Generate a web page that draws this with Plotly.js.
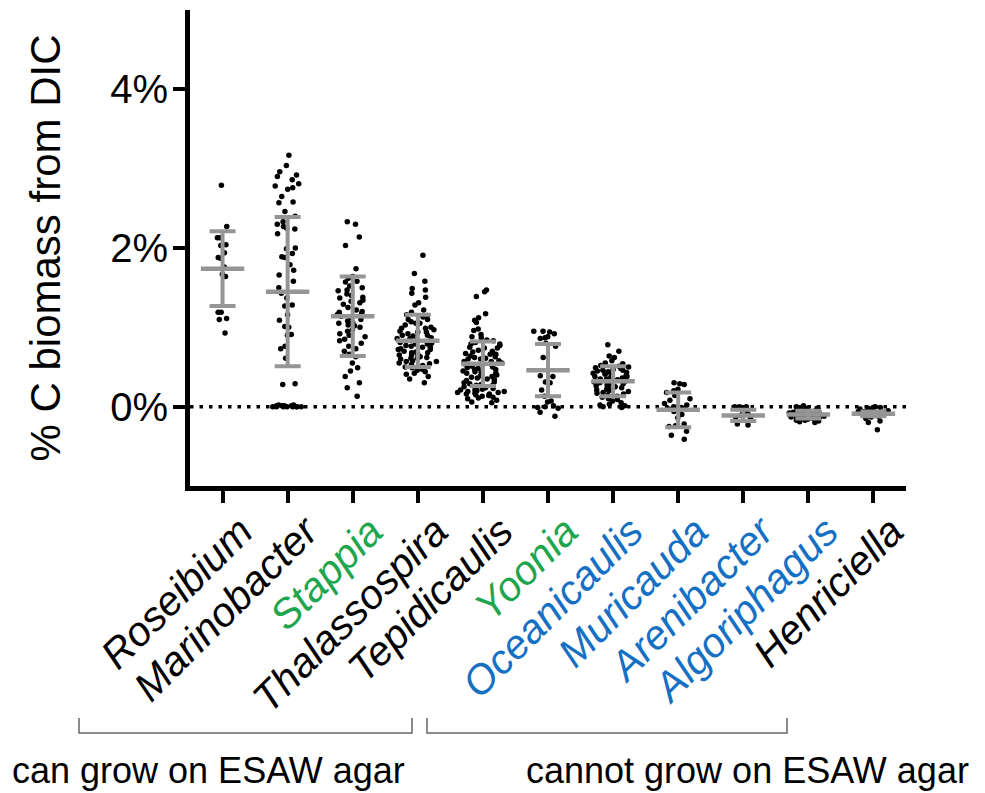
<!DOCTYPE html>
<html>
<head>
<meta charset="utf-8">
<script src="https://cdn.plot.ly/plotly-3.0.1.min.js"></script>
<style>html,body{margin:0;padding:0;background:#fff;}#chart{width:985px;height:793px;}</style>
</head>
<body>
<div id="chart"></div>
<script>
// ---------------- data ----------------
var categories = ["Roseibium","Marinobacter","Stappia","Thalassospira","Tepidicaulis","Yoonia","Oceanicaulis","Muricauda","Arenibacter","Algoriphagus","Henriciella"];
var labelGroup = ["black","black","green","black","black","green","blue","blue","blue","blue","black"];

var roseibium = [2.79, 2.27, 2.13, 2.13, 2.03, 2.04, 1.94, 1.88, 1.87, 1.76, 1.67, 1.64, 1.19, 1.19, 1.11, 1.10, 0.93];
var marinobacter = [3.17, 3.04, 2.96, 2.92, 2.90, 2.86, 2.81, 2.78, 2.76, 2.74, 2.65, 2.58, 2.57, 2.46, 2.40, 2.33, 2.30, 2.27, 2.25, 2.24, 2.18, 2.00, 1.99, 1.93, 1.89, 1.88, 1.79, 1.72, 1.66, 1.58, 1.50, 1.43, 1.37, 1.28, 1.27, 1.16, 1.09, 1.01, 1.00, 0.91, 0.90, 0.76, 0.73, 0.61, 0.29, 0.28, 0.02, 0.01, 0.01, 0.00, 0.00, 0.00, 0.00, 0.01, 0.00, 0.00, 0.02, 0.00, 0.01, 0.00];
var stappia = [2.33, 2.30, 2.14, 2.03, 1.74, 1.64, 1.62, 1.58, 1.57, 1.52, 1.50, 1.47, 1.46, 1.42, 1.40, 1.38, 1.37, 1.34, 1.33, 1.31, 1.29, 1.25, 1.22, 1.20, 1.19, 1.17, 1.16, 1.14, 1.12, 1.10, 1.08, 1.06, 1.05, 1.03, 1.02, 1.00, 0.97, 0.95, 0.92, 0.90, 0.88, 0.85, 0.83, 0.80, 0.76, 0.73, 0.70, 0.66, 0.63, 0.55, 0.49, 0.45, 0.38, 0.30, 0.24, 0.13];
var thalassospira = [1.91, 1.68, 1.58, 1.49, 1.47, 1.43, 1.38, 1.31, 1.28, 1.22, 1.19, 1.16, 1.15, 1.13, 1.10, 1.10, 1.07, 1.05, 1.05, 1.03, 1.00, 0.99, 0.99, 0.97, 0.95, 0.94, 0.94, 0.92, 0.90, 0.90, 0.89, 0.87, 0.86, 0.86, 0.84, 0.83, 0.83, 0.81, 0.80, 0.79, 0.79, 0.77, 0.76, 0.75, 0.75, 0.73, 0.72, 0.72, 0.70, 0.69, 0.68, 0.68, 0.66, 0.65, 0.65, 0.63, 0.62, 0.61, 0.61, 0.60, 0.58, 0.57, 0.57, 0.55, 0.54, 0.53, 0.52, 0.50, 0.49, 0.47, 0.46, 0.44, 0.42, 0.41, 0.38, 0.35, 0.30];
var tepidicaulis = [1.47, 1.45, 1.39, 1.17, 1.12, 1.09, 1.06, 0.98, 0.96, 0.91, 0.88, 0.87, 0.84, 0.83, 0.81, 0.79, 0.79, 0.77, 0.75, 0.74, 0.74, 0.71, 0.70, 0.69, 0.67, 0.66, 0.66, 0.64, 0.63, 0.62, 0.61, 0.60, 0.60, 0.58, 0.57, 0.57, 0.55, 0.54, 0.53, 0.53, 0.51, 0.50, 0.49, 0.48, 0.47, 0.47, 0.45, 0.44, 0.43, 0.42, 0.42, 0.40, 0.39, 0.38, 0.37, 0.36, 0.35, 0.34, 0.33, 0.31, 0.30, 0.29, 0.28, 0.27, 0.27, 0.26, 0.25, 0.24, 0.24, 0.23, 0.22, 0.21, 0.21, 0.20, 0.19, 0.19, 0.18, 0.18, 0.17, 0.16, 0.16, 0.15, 0.14, 0.13, 0.12, 0.11, 0.10, 0.08, 0.06, 0.05];
var yoonia = [0.95, 0.95, 0.94, 0.92, 0.88, 0.87, 0.86, 0.80, 0.76, 0.62, 0.39, 0.38, 0.31, 0.30, 0.21, 0.13, 0.07, 0.06, 0.01, 0.00, -0.01, -0.02, -0.07, -0.12];
var oceanicaulis = [0.78, 0.70, 0.64, 0.62, 0.58, 0.55, 0.54, 0.52, 0.51, 0.50, 0.49, 0.48, 0.47, 0.46, 0.46, 0.45, 0.44, 0.43, 0.42, 0.42, 0.41, 0.40, 0.39, 0.38, 0.38, 0.37, 0.36, 0.35, 0.35, 0.34, 0.33, 0.32, 0.32, 0.31, 0.30, 0.29, 0.29, 0.28, 0.27, 0.26, 0.25, 0.25, 0.24, 0.23, 0.22, 0.21, 0.20, 0.19, 0.18, 0.17, 0.16, 0.14, 0.13, 0.12, 0.10, 0.09, 0.07, 0.05, 0.03, 0.02, 0.01, 0.00, -0.01];
var muricauda = [0.30, 0.29, 0.28, 0.22, 0.20, 0.18, 0.14, 0.10, 0.08, 0.04, 0.02, 0.00, -0.01, -0.03, -0.06, -0.10, -0.14, -0.22, -0.24, -0.25, -0.31, -0.36, -0.41];
var arenibacter = [0.00, 0.00, -0.01, 0.00, -0.06, -0.08, -0.10, -0.11, -0.13, -0.15, -0.22, -0.23];
var algoriphagus = [0.01, 0.00, -0.01, -0.02, -0.02, -0.03, -0.04, -0.04, -0.05, -0.05, -0.06, -0.06, -0.07, -0.07, -0.07, -0.08, -0.08, -0.08, -0.09, -0.09, -0.09, -0.10, -0.10, -0.10, -0.10, -0.11, -0.11, -0.11, -0.12, -0.12, -0.12, -0.13, -0.13, -0.13, -0.14, -0.14, -0.15, -0.15, -0.16, -0.16, -0.17, -0.17, -0.18, -0.19, -0.20];
var henriciella = [0.00, -0.01, -0.01, -0.02, -0.03, -0.04, -0.05, -0.06, -0.06, -0.07, -0.08, -0.08, -0.09, -0.10, -0.10, -0.11, -0.12, -0.13, -0.15, -0.18, -0.20, -0.29];

var means = [1.74, 1.45, 1.14, 0.83, 0.54, 0.46, 0.32, -0.04, -0.11, -0.10, -0.09];
var sds   = [0.47, 0.94, 0.50, 0.33, 0.28, 0.33, 0.19, 0.22, 0.07, 0.05, 0.03];

var yTickVals = [0, 2, 4];
var yTickText = ["0%", "2%", "4%"];
var groupLabels = ["can grow on ESAW agar", "cannot grow on ESAW agar"];

// ---------------- drawing ----------------
var series = [roseibium, marinobacter, stappia, thalassospira, tepidicaulis, yoonia, oceanicaulis, muricauda, arenibacter, algoriphagus, henriciella];
var colorMap = {black: "#000000", green: "#1ea64e", blue: "#1570c4"};
// swarm spread per category: [box width, jitter]
var swarm = [[0.4,0.55],[0.6,0.9],[0.6,0.9],[0.8,0.85],[0.8,1.0],[0.6,0.9],[0.7,0.95],[0.5,0.9],[0.4,0.9],[0.7,0.9],[0.6,0.85]];
var gray = "#959595";

var traces = [];
series.forEach(function(vals, i){
  traces.push({
    type: "box",
    x: vals.map(function(){ return categories[i]; }),
    y: vals,
    boxpoints: "all",
    jitter: swarm[i][1],
    pointpos: 0,
    width: swarm[i][0],
    line: {width: 0, color: "rgba(0,0,0,0)"},
    fillcolor: "rgba(0,0,0,0)",
    marker: {color: "#000", size: 5.5, line: {width: 0}},
    hoverinfo: "skip",
    showlegend: false
  });
});

traces.push({
  type: "scatter",
  mode: "markers",
  x: categories,
  y: means,
  marker: {symbol: "line-ew", size: 31, color: gray, line: {color: gray, width: 4.5}},
  error_y: {type: "data", array: sds, visible: true, color: gray, thickness: 4, width: 13},
  hoverinfo: "skip",
  showlegend: false
});

var tickText = categories.map(function(c, i){
  return '<span style="color:' + colorMap[labelGroup[i]] + '"><i>' + c + '</i></span>';
});

var L = 190, R = 906, T = 10, B = 486;
function px(xp){ return (xp - L) / (R - L); }
function py(yp){ return (B - yp) / (B - T); }

var layout = {
  width: 985, height: 793,
  margin: {l: L, r: 985 - R, t: T, b: 793 - B, pad: 0},
  paper_bgcolor: "#fff", plot_bgcolor: "#fff",
  showlegend: false,
  font: {family: "Liberation Sans, Arial, sans-serif", color: "#000"},
  boxmode: "overlay",
  xaxis: {
    type: "category", categoryorder: "array", categoryarray: categories,
    range: [-0.5, categories.length - 0.5],
    tickmode: "array", tickvals: categories, ticktext: tickText,
    tickangle: -45, tickfont: {size: 41},
    ticklabelshift: 18, ticklabelstandoff: -12,
    ticks: "outside", ticklen: 12, tickwidth: 4, tickcolor: "#000",
    showline: true, linewidth: 5, linecolor: "#000",
    showgrid: false, zeroline: false, fixedrange: true, automargin: false
  },
  yaxis: {
    range: [-1, 5],
    tickmode: "array", tickvals: yTickVals, ticktext: yTickText,
    tickfont: {size: 40},
    ticks: "outside", ticklen: 12, tickwidth: 4, tickcolor: "#000",
    ticklabelstandoff: -3,
    showline: true, linewidth: 5, linecolor: "#000",
    showgrid: false, zeroline: false, fixedrange: true, automargin: false,
    title: {text: "% C biomass from DIC", font: {size: 42}, standoff: 38}
  },
  shapes: [
    {type: "line", xref: "paper", yref: "y", x0: 0, x1: 1, y0: 0, y1: 0, layer: "below",
     line: {color: "#000", width: 3.5, dash: "3.5px,6px"}},
    {type: "path", xref: "paper", yref: "paper",
     path: "M " + px(79) + " " + py(718) + " L " + px(79) + " " + py(733) + " L " + px(412) + " " + py(733) + " L " + px(412) + " " + py(718),
     line: {color: "#666", width: 1.5}},
    {type: "path", xref: "paper", yref: "paper",
     path: "M " + px(427) + " " + py(718) + " L " + px(427) + " " + py(733) + " L " + px(787) + " " + py(733) + " L " + px(787) + " " + py(718),
     line: {color: "#666", width: 1.5}}
  ],
  annotations: [
    {xref: "paper", yref: "paper", x: px(208), y: py(770), text: groupLabels[0], showarrow: false,
     xanchor: "center", yanchor: "middle", font: {size: 36, color: "#000"}},
    {xref: "paper", yref: "paper", x: px(747), y: py(770), text: groupLabels[1], showarrow: false,
     xanchor: "center", yanchor: "middle", font: {size: 36, color: "#000"}}
  ]
};

Plotly.newPlot("chart", traces, layout, {displayModeBar: false, staticPlot: true});
</script>
</body>
</html>
